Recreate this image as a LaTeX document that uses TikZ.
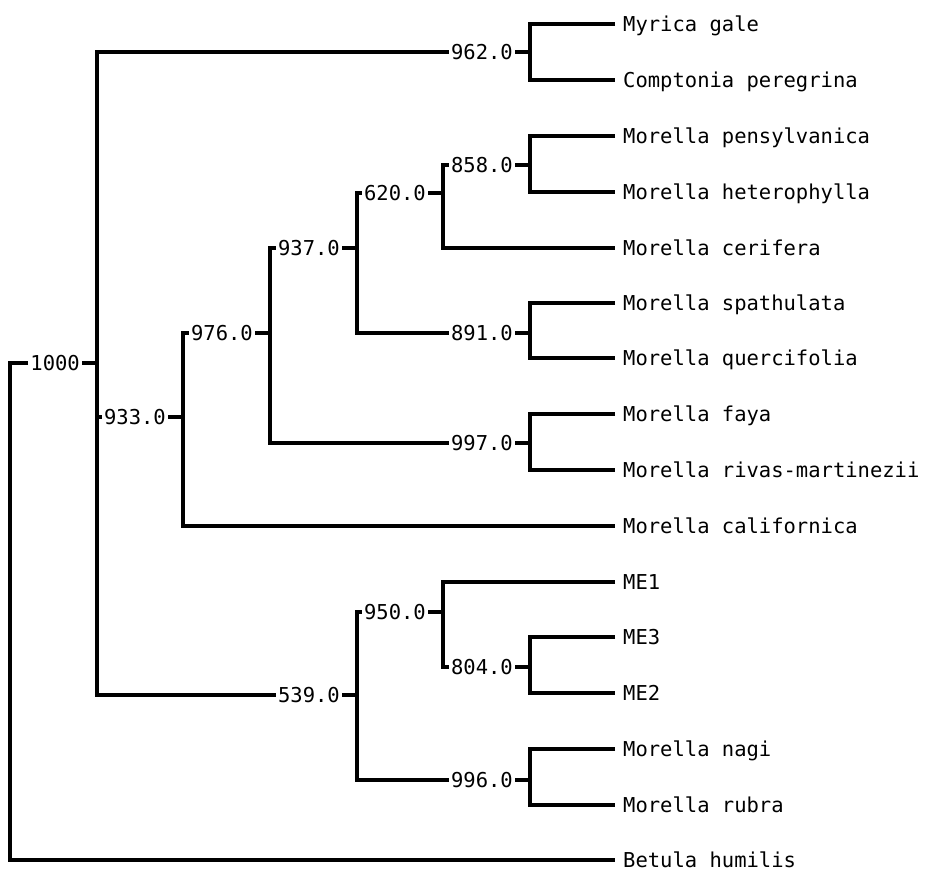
\documentclass[tikz,border=0pt]{standalone}
\usepackage{fontspec}
\setmonofont{DejaVu Sans Mono}
\usetikzlibrary{positioning}

\begin{document}
\begin{tikzpicture}[
  x=1pt, y=-1pt,
  br/.style={line width=3.2pt},
  taxon/.style={anchor=west, inner xsep=8pt, inner ysep=0pt, text height=15pt, text depth=0pt,
                font=\ttfamily\fontsize{20.5}{24}\selectfont},
  supp/.style={anchor=east, inner xsep=2pt, inner ysep=0pt, text height=15pt, text depth=0pt,
               font=\ttfamily\fontsize{20.5}{24}\selectfont}
]
\useasboundingbox (0,0) rectangle (928,877);

% taxa
\node[taxon] (myr) at (615,24) {Myrica gale};
\node[taxon] (com) at (615,80) {Comptonia peregrina};
\node[taxon] (pen) at (615,136) {Morella pensylvanica};
\node[taxon] (het) at (615,192) {Morella heterophylla};
\node[taxon] (cer) at (615,248) {Morella cerifera};
\node[taxon] (spa) at (615,303) {Morella spathulata};
\node[taxon] (que) at (615,358) {Morella quercifolia};
\node[taxon] (fay) at (615,414) {Morella faya};
\node[taxon] (riv) at (615,470) {Morella rivas-martinezii};
\node[taxon] (cal) at (615,526) {Morella californica};
\node[taxon] (me1) at (615,582) {ME1};
\node[taxon] (me3) at (615,637) {ME3};
\node[taxon] (me2) at (615,693) {ME2};
\node[taxon] (nag) at (615,749) {Morella nagi};
\node[taxon] (rub) at (615,805) {Morella rubra};
\node[taxon] (bet) at (615,860) {Betula humilis};

% junctions
\coordinate (v0) at (10,363);
\coordinate (v1000) at (97,363);
\coordinate (v962) at (530,52);
\coordinate (v933) at (183,417);
\coordinate (v976) at (270,333);
\coordinate (v937) at (357,248);
\coordinate (v620) at (443,193);
\coordinate (v858) at (530,165);
\coordinate (v891) at (530,333);
\coordinate (v997) at (530,443);
\coordinate (v539) at (357,695);
\coordinate (v950) at (443,612);
\coordinate (v804) at (530,667);
\coordinate (v996) at (530,780);

% bootstrap values
\node[supp, left=15pt of v1000] (l1000) {1000};
\node[supp, left=15pt of v962] (l962) {962.0};
\node[supp, left=15pt of v933] (l933) {933.0};
\node[supp, left=15pt of v976] (l976) {976.0};
\node[supp, left=15pt of v937] (l937) {937.0};
\node[supp, left=15pt of v620] (l620) {620.0};
\node[supp, left=15pt of v858] (l858) {858.0};
\node[supp, left=15pt of v891] (l891) {891.0};
\node[supp, left=15pt of v997] (l997) {997.0};
\node[supp, left=15pt of v539] (l539) {539.0};
\node[supp, left=15pt of v950] (l950) {950.0};
\node[supp, left=15pt of v804] (l804) {804.0};
\node[supp, left=15pt of v996] (l996) {996.0};

% ticks
\draw[br] (l1000) -- (v1000);
\draw[br] (l962) -- (v962);
\draw[br] (l933) -- (v933);
\draw[br] (l976) -- (v976);
\draw[br] (l937) -- (v937);
\draw[br] (l620) -- (v620);
\draw[br] (l858) -- (v858);
\draw[br] (l891) -- (v891);
\draw[br] (l997) -- (v997);
\draw[br] (l539) -- (v539);
\draw[br] (l950) -- (v950);
\draw[br] (l804) -- (v804);
\draw[br] (l996) -- (v996);

% branches
\draw[br] (l1000) -| (v0) |- (bet);
\draw[br] (l962) -| (v1000) |- (l539);
\draw[br] (l933) -- (l933 -| v1000);
\draw[br] (myr) -| (v962) |- (com);
\draw[br] (l976) -| (v933) |- (cal);
\draw[br] (l937) -| (v976) |- (l997);
\draw[br] (l620) -| (v937) |- (l891);
\draw[br] (l858) -| (v620) |- (cer);
\draw[br] (pen) -| (v858) |- (het);
\draw[br] (spa) -| (v891) |- (que);
\draw[br] (fay) -| (v997) |- (riv);
\draw[br] (l950) -| (v539) |- (l996);
\draw[br] (me1) -| (v950) |- (l804);
\draw[br] (me3) -| (v804) |- (me2);
\draw[br] (nag) -| (v996) |- (rub);
\end{tikzpicture}
\end{document}
